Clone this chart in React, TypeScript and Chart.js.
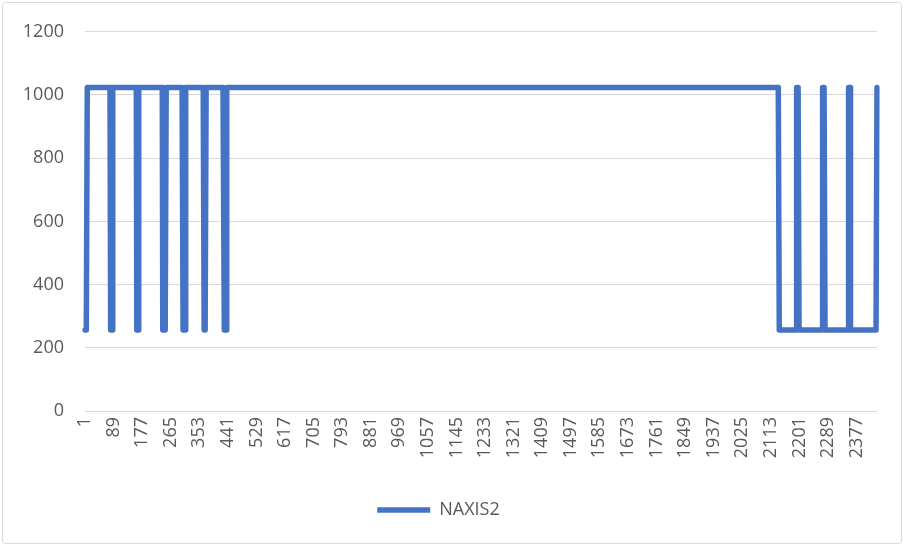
import React, { useEffect, useRef } from "react";
import { Chart, registerables } from "chart.js";

Chart.register(...registerables);

// Number of frames (category positions) along the x axis.
const FRAME_COUNT = 2440;

// Step changes of NAXIS2: [first frame index, value from that frame on].
const levelChanges: [number, number][] = [
  [1, 256],
  [8, 1024],
  [80, 256],
  [87, 1024],
  [160, 256],
  [167, 1024],
  [241, 256],
  [251, 1024],
  [303, 256],
  [312, 1024],
  [368, 256],
  [374, 1024],
  [430, 256],
  [437, 1024],
  [2139, 256],
  [2193, 1024],
  [2200, 256],
  [2273, 1024],
  [2280, 256],
  [2352, 1024],
  [2358, 256],
  [2440, 1024],
];

const SERIES_NAME = "NAXIS2";
const TICK_EVERY = 88;
const Y_MIN = 0;
const Y_MAX = 1200;
const Y_STEP = 200;

const frameLabels: string[] = [];
for (let i = 1; i <= FRAME_COUNT; i++) frameLabels.push(String(i));

const naxis2Values: number[] = [];
{
  let k = 0;
  let current = levelChanges[0][1];
  for (let i = 1; i <= FRAME_COUNT; i++) {
    while (k < levelChanges.length && levelChanges[k][0] <= i) {
      current = levelChanges[k][1];
      k++;
    }
    naxis2Values.push(current);
  }
}

const FONT = "'Open Sans', 'Noto Sans', sans-serif";
const TEXT_COLOR = "#595959";
const LINE_COLOR = "#4472C4";
const GRID_COLOR = "#d9d9d9";

export default function App() {
  const canvasRef = useRef<HTMLCanvasElement | null>(null);

  useEffect(() => {
    if (!canvasRef.current) return;
    const chart = new Chart(canvasRef.current, {
      type: "line",
      data: {
        labels: frameLabels,
        datasets: [
          {
            label: SERIES_NAME,
            data: naxis2Values,
            borderColor: LINE_COLOR,
            backgroundColor: LINE_COLOR,
            borderWidth: 5.5,
            pointRadius: 0,
            pointHoverRadius: 0,
            tension: 0,
            fill: false,
            borderJoinStyle: "round",
            borderCapStyle: "round",
          },
        ],
      },
      options: {
        animation: false,
        responsive: true,
        maintainAspectRatio: false,
        events: [],
        layout: { padding: { left: 0, right: 29, top: 30, bottom: 19 } },
        plugins: {
          tooltip: { enabled: false },
          legend: {
            position: "bottom",
            labels: {
              usePointStyle: true,
              pointStyle: "line",
              pointStyleWidth: 53,
              padding: 10,
              color: TEXT_COLOR,
              font: { family: FONT, size: 18 },
            },
          },
        },
        scales: {
          x: {
            type: "category",
            offset: false,
            grid: { display: false, drawTicks: false },
            border: { display: false },
            afterFit: (scale: any) => {
              scale.height = 80;
            },
            ticks: {
              autoSkip: false,
              minRotation: 90,
              maxRotation: 90,
              padding: 6,
              color: TEXT_COLOR,
              font: { family: FONT, size: 18 },
              callback: (_v: any, index: number) =>
                index % TICK_EVERY === 0 ? frameLabels[index] : "",
            },
          },
          y: {
            min: Y_MIN,
            max: Y_MAX,
            grid: { color: GRID_COLOR, lineWidth: 1, drawTicks: false },
            border: { display: false },
            afterFit: (scale: any) => {
              scale.width = 85;
            },
            ticks: {
              stepSize: Y_STEP,
              padding: 21,
              color: TEXT_COLOR,
              font: { family: FONT, size: 18 },
              callback: (v: any) => String(v),
            },
          },
        },
      },
    });
    return () => chart.destroy();
  }, []);

  return (
    <div style={{ position: "absolute", left: 0, top: 0, width: 906, height: 548, background: "#fff" }}>
      <div
        style={{
          position: "absolute",
          left: 2,
          top: 2,
          width: 900,
          height: 542,
          border: "1px solid #d9d9d9",
          borderRadius: 4,
          boxSizing: "border-box",
        }}
      />
      <div style={{ position: "absolute", left: 0, top: 0, width: 906, height: 548 }}>
        <canvas ref={canvasRef} />
      </div>
    </div>
  );
}
